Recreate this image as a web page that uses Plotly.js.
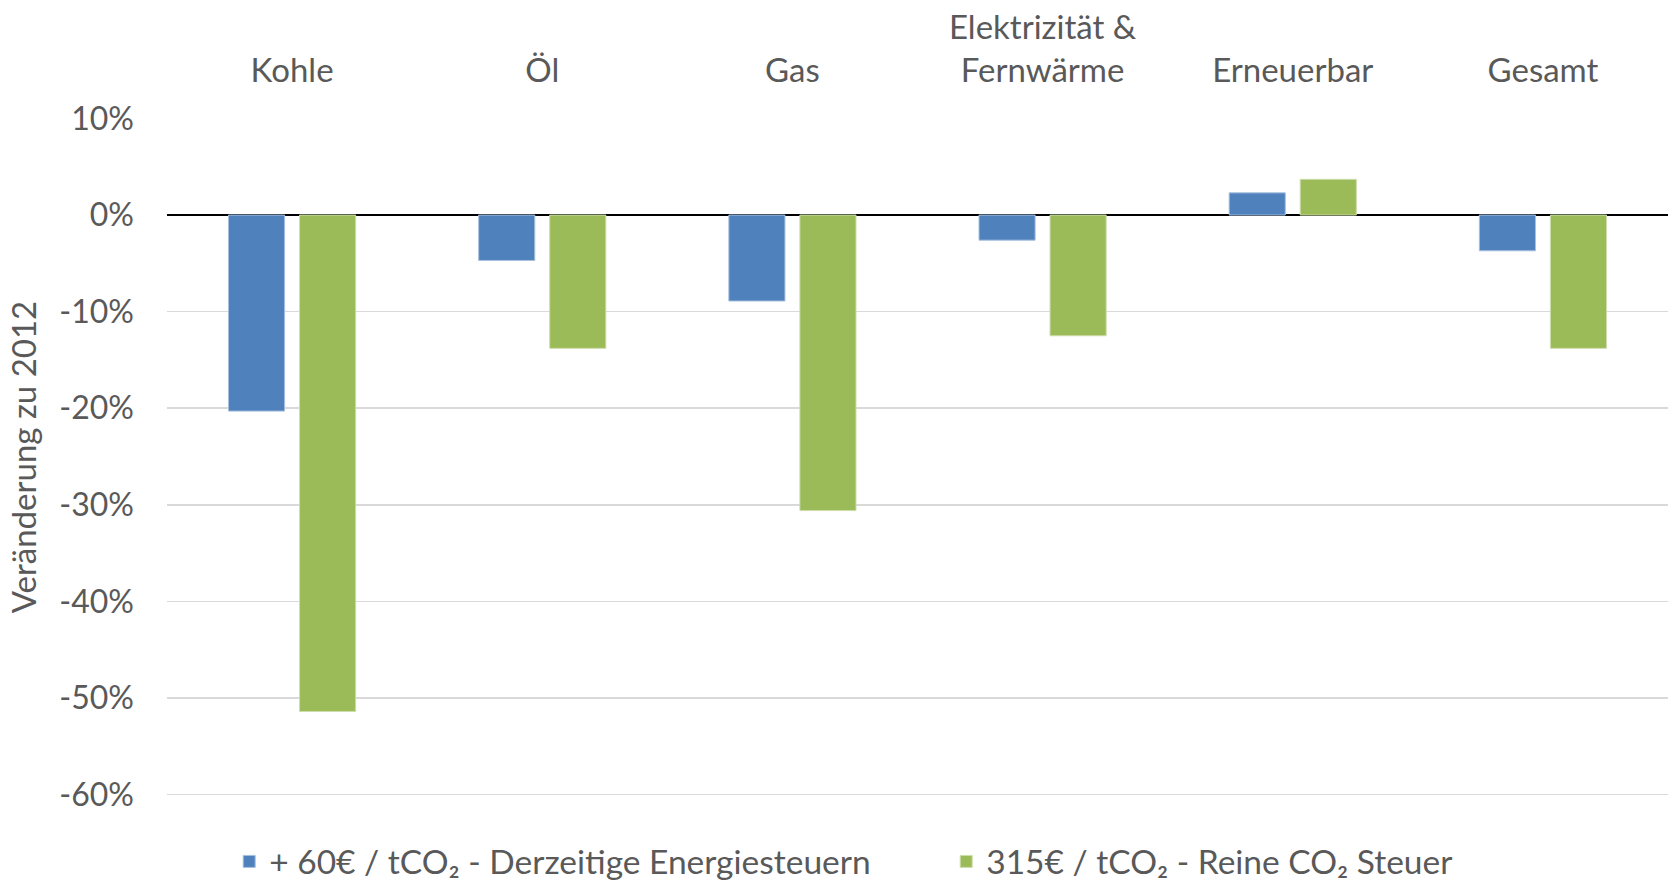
<!DOCTYPE html>
<html>
<head>
<meta charset="utf-8">
<script src="https://cdn.plot.ly/plotly-3.0.1.min.js"></script>
<style>html,body{margin:0;padding:0;background:#fff;}#chart{width:1673px;height:881px;}</style>
</head>
<body>
<div id="chart"></div>
<script>
const categories = ["Kohle", "Öl", "Gas", "Elektrizität &<br>Fernwärme", "Erneuerbar", "Gesamt"];
const seriesNames = ["+ 60€ / tCO₂ - Derzeitige Energiesteuern", "315€ / tCO₂ - Reine CO₂ Steuer"];
const values60 = [-0.203, -0.047, -0.089, -0.026, 0.023, -0.037];
const values315 = [-0.514, -0.138, -0.306, -0.125, 0.037, -0.138];
const yTickVals = [0.1, 0, -0.1, -0.2, -0.3, -0.4, -0.5, -0.6];
const yTickText = ["10%", "0%", "-10%", "-20%", "-30%", "-40%", "-50%", "-60%"];

const font = "Lato, 'Open Sans', sans-serif";
const gray = "#595959";

const traces = [
  {type: "bar", name: seriesNames[0], x: categories, y: values60,
   marker: {color: "#4F81BD", line: {color: "#A7C0DE", width: 1}}},
  {type: "bar", name: seriesNames[1], x: categories, y: values315,
   marker: {color: "#9BBB59", line: {color: "#CDDDAC", width: 1}}}
];

const layout = {
  width: 1673, height: 881,
  paper_bgcolor: "#fff", plot_bgcolor: "#fff",
  margin: {l: 167, r: 5, t: 118, b: 85},
  barmode: "group", bargap: 0.432, bargroupgap: 0.21,
  font: {family: font, size: 32, color: gray},
  showlegend: true,
  legend: {orientation: "h", xref: "container", yref: "container", x: 0.137, xanchor: "left",
           y: 0.022, yanchor: "middle", font: {size: 33.5, color: gray}, entrywidth: 672, traceorder: "normal"},
  xaxis: {side: "top", showgrid: false, showline: false, ticks: "", zeroline: false,
          tickfont: {size: 33, color: gray}, ticklabelstandoff: 28, fixedrange: true},
  yaxis: {range: [-0.6015, 0.1005], tickvals: yTickVals, ticktext: yTickText,
          showgrid: true, gridcolor: "#D9D9D9", gridwidth: 1.5,
          zeroline: true, zerolinecolor: "#000", zerolinewidth: 2,
          showline: false, ticks: "", tickfont: {size: 32, color: gray}, ticklabelstandoff: 32,
          title: {text: "Veränderung zu 2012", font: {size: 33, color: gray}, standoff: 12},
          automargin: false}
};

Plotly.newPlot("chart", traces, layout, {displayModeBar: false, staticPlot: true});
</script>
</body>
</html>
